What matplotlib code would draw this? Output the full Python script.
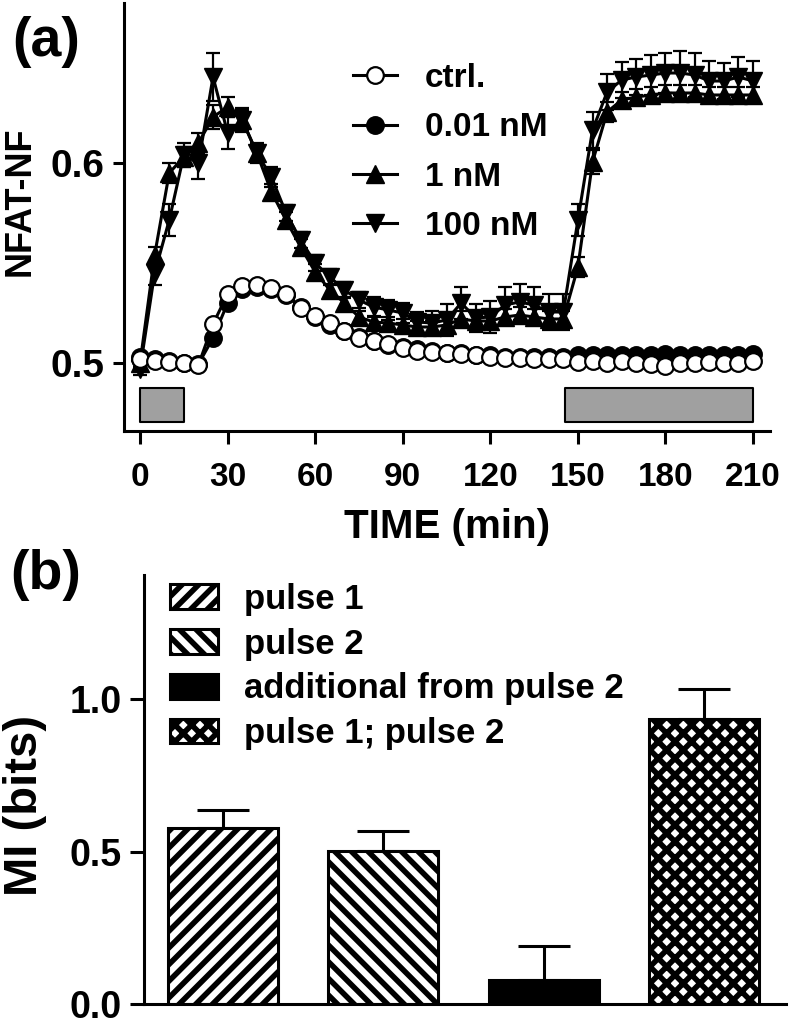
import numpy as np
import matplotlib
matplotlib.use('Agg')
import matplotlib.pyplot as plt

plt.rcParams['font.family'] = ['Liberation Sans', 'DejaVu Sans']
plt.rcParams['font.weight'] = 'bold'
plt.rcParams['hatch.linewidth'] = 4.0

# (a) NFAT-NF time course
time_min = list(range(0, 211, 5))
ctrl = [0.502, 0.501, 0.5005, 0.500, 0.499, 0.5195, 0.5345, 0.5385, 0.539, 0.5375,
        0.5345, 0.5275, 0.5235, 0.520, 0.516, 0.5125, 0.511, 0.5095, 0.5075, 0.506,
        0.5055, 0.505, 0.5045, 0.504, 0.503, 0.5025, 0.5025, 0.502, 0.502, 0.502,
        0.5005, 0.501, 0.500, 0.501, 0.500, 0.4995, 0.4985, 0.500, 0.500, 0.5005,
        0.500, 0.500, 0.501]
c001 = [0.503, 0.502, 0.501, 0.500, 0.4995, 0.5125, 0.530, 0.537, 0.538, 0.537,
        0.534, 0.528, 0.523, 0.519, 0.516, 0.513, 0.511, 0.509, 0.508, 0.507,
        0.506, 0.505, 0.505, 0.504, 0.504, 0.503, 0.503, 0.503, 0.503, 0.503,
        0.504, 0.504, 0.504, 0.504, 0.504, 0.504, 0.5045, 0.504, 0.504, 0.504,
        0.504, 0.504, 0.5045]
c1 = [0.500, 0.554, 0.595, 0.603, 0.610, 0.623, 0.628, 0.6215, 0.605, 0.5855,
      0.5715, 0.558, 0.5455, 0.5365, 0.530, 0.523, 0.5205, 0.520, 0.519, 0.518,
      0.518, 0.519, 0.522, 0.521, 0.521, 0.523, 0.524, 0.523, 0.522, 0.522,
      0.548, 0.6005, 0.6255, 0.6315, 0.633, 0.634, 0.635, 0.635, 0.635, 0.634,
      0.634, 0.634, 0.634]
c1_err = [0.002, 0.004, 0.005, 0.005, 0.005, 0.006, 0.005, 0.005, 0.004, 0.004,
          0.004, 0.004, 0.004, 0.003, 0.003, 0.003, 0.003, 0.003, 0.003, 0.003,
          0.003, 0.004, 0.004, 0.004, 0.004, 0.004, 0.004, 0.004, 0.004, 0.004,
          0.005, 0.006, 0.005, 0.004, 0.004, 0.004, 0.004, 0.004, 0.004, 0.004,
          0.004, 0.004, 0.004]
c100 = [0.497, 0.545, 0.5715, 0.604, 0.600, 0.643, 0.615, 0.6215, 0.605, 0.593,
        0.575, 0.5615, 0.550, 0.543, 0.5365, 0.5315, 0.528, 0.5265, 0.525, 0.5205,
        0.520, 0.5215, 0.530, 0.5225, 0.523, 0.529, 0.5305, 0.529, 0.5255, 0.5255,
        0.5715, 0.6165, 0.6355, 0.6415, 0.643, 0.644, 0.645, 0.645, 0.644, 0.641,
        0.641, 0.643, 0.641]
c100_err = [0.003, 0.006, 0.008, 0.006, 0.008, 0.012, 0.008, 0.006, 0.005, 0.005,
            0.004, 0.004, 0.004, 0.004, 0.004, 0.004, 0.005, 0.005, 0.005, 0.005,
            0.006, 0.008, 0.008, 0.007, 0.008, 0.009, 0.009, 0.009, 0.009, 0.009,
            0.008, 0.009, 0.009, 0.009, 0.009, 0.010, 0.010, 0.011, 0.011, 0.010,
            0.009, 0.010, 0.010]
stim_start = [0, 145.5]
stim_length = [15, 64.5]

# (b) mutual information
mi_labels = ['pulse 1', 'pulse 2', 'additional from pulse 2', 'pulse 1; pulse 2']
mi_values = [0.578, 0.502, 0.080, 0.936]
mi_err = [0.058, 0.064, 0.110, 0.096]
mi_hatch = ['//', '\\\\', '', 'xx']
mi_face = ['white', 'white', 'black', 'white']

fig = plt.figure(figsize=(7.93, 10.21), dpi=100)

# ---- panel (a)
ax1 = fig.add_axes([124/793, 1-431/1021, 646/793, 428/1021])
lw = 2.2
ebkw = dict(fmt='none', ecolor='black', capsize=5, elinewidth=1.6, capthick=1.6)
ax1.errorbar(time_min, c1, yerr=c1_err, **ebkw)
l1, = ax1.plot(time_min, c1, color='black', lw=lw, marker='^', ms=13, mfc='black', mec='black')
ax1.errorbar(time_min, c100, yerr=c100_err, **ebkw)
l100, = ax1.plot(time_min, c100, color='black', lw=lw, marker='v', ms=13, mfc='black', mec='black')
l001, = ax1.plot(time_min, c001, color='black', lw=lw, marker='o', ms=12, mfc='black',
                 mec='black', mew=1.6)
lctrl, = ax1.plot(time_min, ctrl, color='black', lw=lw, marker='o', ms=12, mfc='white',
                  mec='black', mew=1.6)
ax1.broken_barh(list(zip(stim_start, stim_length)), (0.4705, 0.017),
                facecolor='#a0a0a0', edgecolor='black', lw=1.5)

ax1.set_xlim(-5.5, 215.8)
ax1.set_ylim(0.466, 0.68)
ax1.set_xticks(range(0, 211, 30))
ax1.set_yticks([0.5, 0.6])
ax1.spines['top'].set_visible(False)
ax1.spines['right'].set_visible(False)
for s in ['left', 'bottom']:
    ax1.spines[s].set_linewidth(lw)
ax1.tick_params(axis='y', length=8, width=lw, labelsize=28, pad=6)
ax1.tick_params(axis='x', length=9, width=lw, labelsize=24, pad=13)
ax1.set_xlabel('TIME (min)', fontsize=29, fontweight='bold', labelpad=11)
ax1.set_ylabel('NFAT-NF', fontsize=26, fontweight='bold')
ax1.yaxis.set_label_coords((38-124)/646, 0.537)

ax1.legend([lctrl, l001, l1, l100], ['ctrl.', '0.01 nM', '1 nM', '100 nM'], loc='upper left',
           bbox_to_anchor=(0.354, 0.86), frameon=False, fontsize=24,
           handlelength=1.32, handletextpad=0.85, labelspacing=0.55, borderpad=0,
           borderaxespad=0)

fig.text(46/793, 1-42/1021, '(a)', fontsize=40, fontweight='bold', ha='center', va='center')

# ---- panel (b)
ax2 = fig.add_axes([144/793, 1-1004/1021, 642/793, 429/1021])
x = np.arange(len(mi_values))
for i in range(len(mi_values)):
    ax2.bar(x[i], mi_values[i], width=0.685, color=mi_face[i], edgecolor='black',
            hatch=mi_hatch[i], lw=2.2, label=mi_labels[i], zorder=2)
ax2.errorbar(x, mi_values, yerr=[np.zeros(len(mi_err)), mi_err], fmt='none', ecolor='black',
             elinewidth=2.2, capsize=19, capthick=2.2, zorder=1)
ax2.set_xlim(-0.49, 3.51)
ax2.set_ylim(0, 1.407)
ax2.set_yticks([0.0, 0.5, 1.0])
ax2.set_yticklabels(['0.0', '0.5', '1.0'])
ax2.set_xticks([])
ax2.spines['top'].set_visible(False)
ax2.spines['right'].set_visible(False)
for s in ['left', 'bottom']:
    ax2.spines[s].set_linewidth(lw)
ax2.tick_params(axis='y', length=10, width=lw, labelsize=27, pad=6)
ax2.set_ylabel('MI (bits)', fontsize=34, fontweight='bold')
ax2.yaxis.set_label_coords((47-144)/642, 0.464)
ax2.legend(loc='upper left', bbox_to_anchor=(0.0405, 0.982), frameon=False, fontsize=25,
           handlelength=1.38, handleheight=0.72, handletextpad=0.75, labelspacing=0.34,
           borderpad=0, borderaxespad=0)

fig.text(46/793, 1-575/1021, '(b)', fontsize=40, fontweight='bold', ha='center', va='center')

fig.savefig('out.png', dpi=100)
